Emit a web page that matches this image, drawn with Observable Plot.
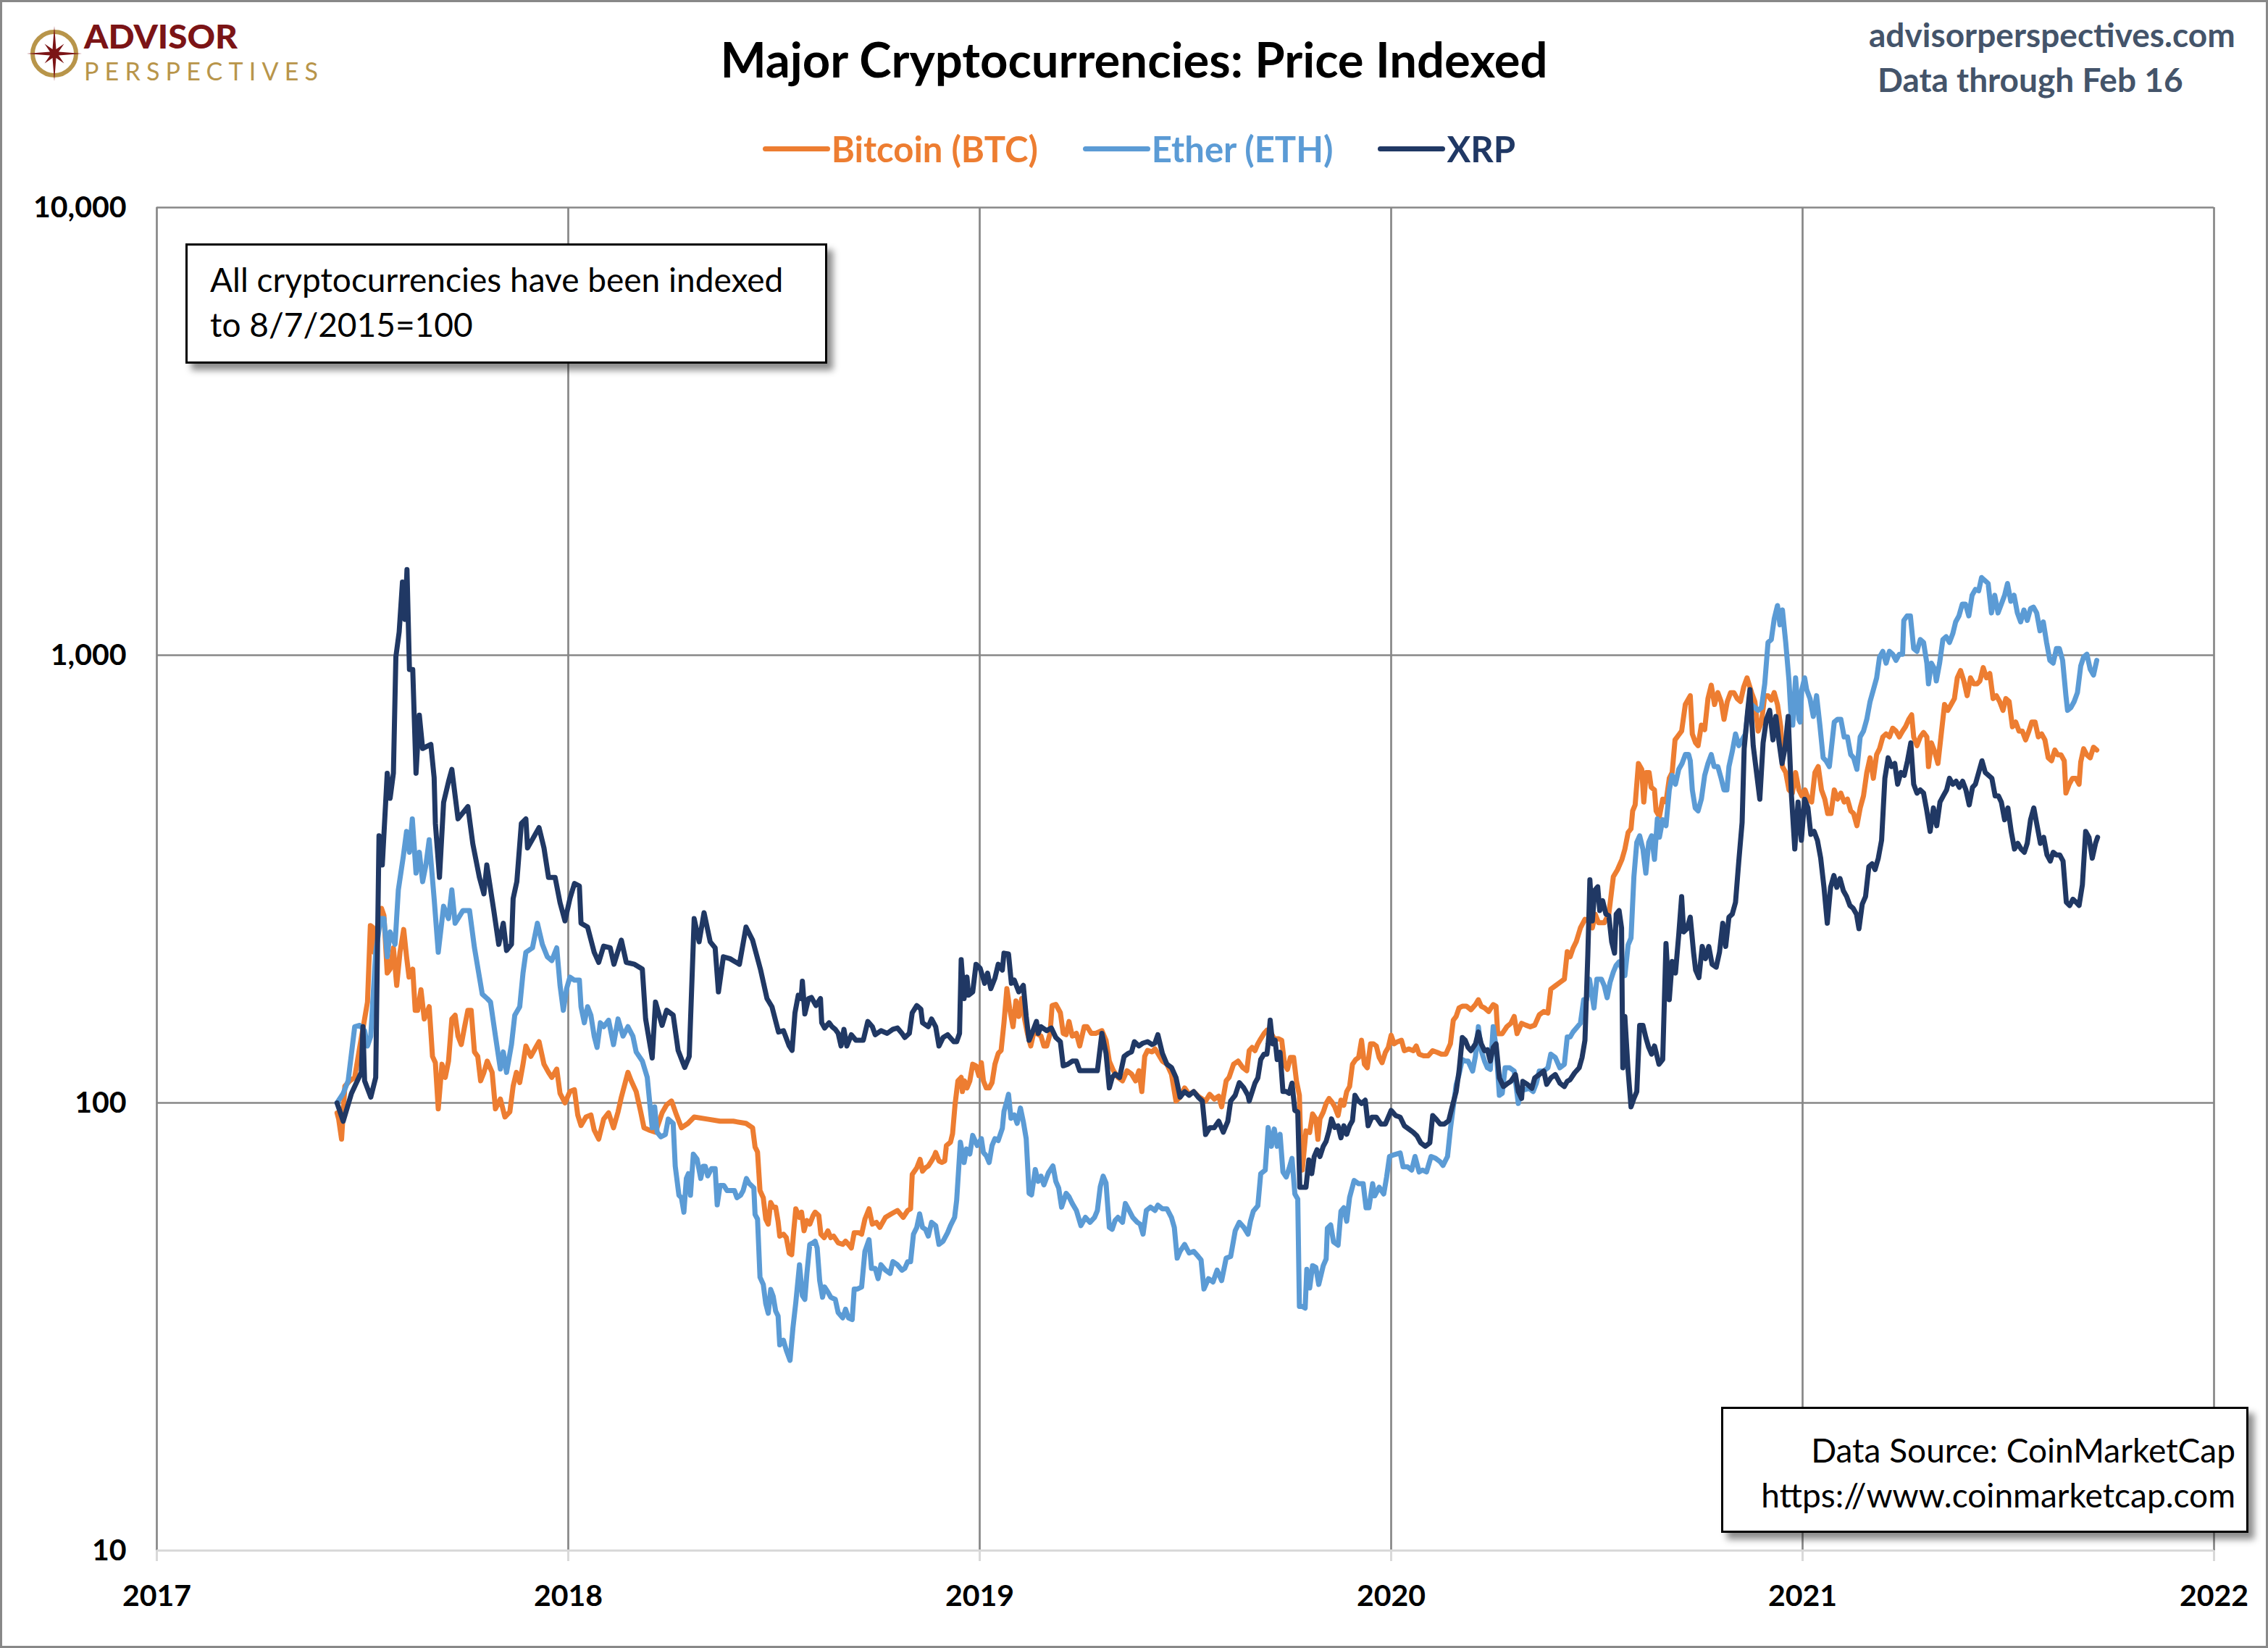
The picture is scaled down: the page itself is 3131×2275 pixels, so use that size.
<!DOCTYPE html>
<html>
<head>
<meta charset="utf-8">
<script src="https://cdn.jsdelivr.net/npm/d3@7"></script>
<script src="https://cdn.jsdelivr.net/npm/@observablehq/plot@0.6"></script>
<style>
  html, body { margin: 0; padding: 0; background: #fff; }
  #frame { position: relative; width: 3131px; height: 2275px; box-sizing: border-box; border: 3px solid #888; background: #fff; overflow: hidden; font-family: Lato, "Open Sans", sans-serif; }
  #header { position: relative; height: 247px; }
  .abs { position: absolute; white-space: nowrap; }
  #title { left: 0; right: 0; top: 45px; text-align: center; font-size: 67px; line-height: 67px; font-weight: 700; color: #000; }
  .site { font-size: 46px; line-height: 46px; font-weight: 700; color: #44546A; }
  #legend { left: 0; right: 0; top: 178px; height: 49px; display: flex; justify-content: center; align-items: center; gap: 62px; padding-left: 14px; }
  .item { display: flex; align-items: center; font-size: 49px; line-height: 49px; font-weight: 700; }
  .sw { width: 93px; height: 7px; border-radius: 4px; margin-right: 2px; }
  .box { position: absolute; box-sizing: border-box; border: 3px solid #000; background: #fff; font-size: 46px; line-height: 62px; color: #000; white-space: nowrap; box-shadow: 8px 9px 9px rgba(0,0,0,0.45); }
  #note { left: 253px; top: 333px; width: 886px; height: 166px; padding: 16px 0 0 31px; }
  #source { left: 2373px; top: 1939px; width: 728px; height: 174px; padding: 26px 15px 0 0; text-align: right; }
</style>
</head>
<body>
<div id="frame">
  <div id="header">
    <svg id="logo" class="abs" style="left:0;top:0" width="470" height="130"></svg>
    <div id="title" class="abs">Major Cryptocurrencies: Price Indexed</div>
    <div class="abs site" style="left:2577px;top:22px">advisorperspectives.com</div>
    <div class="abs site" style="left:2589px;top:84px">Data through Feb 16</div>
    <div id="legend" class="abs"></div>
  </div>
  <div id="chart"></div>
  <div id="note" class="box">All cryptocurrencies have been indexed<br>to 8/7/2015=100</div>
  <div id="source" class="box">Data Source: CoinMarketCap<br>https://www.coinmarketcap.com</div>
</div>
<script>
// ---- data: [decimal year, index value (8/7/2015 = 100)] ----
const seriesNames = ["Bitcoin (BTC)", "Ether (ETH)", "XRP"];
const seriesColors = ["#ED7D31", "#5B9BD5", "#203864"];
const xTicks = [2017, 2018, 2019, 2020, 2021, 2022];
const yTicks = [10, 100, 1000, 10000];

const btc = [
[2017.438,95],[2017.442,92],[2017.449,83],[2017.457,109],[2017.469,112],[2017.481,114],[2017.493,133],[2017.505,154],[2017.512,168],[2017.519,249],[2017.524,247],[2017.528,217],[2017.536,247],[2017.546,272],[2017.552,262],[2017.560,195],[2017.567,199],[2017.575,222],[2017.583,183],[2017.591,217],[2017.600,244],[2017.607,212],[2017.613,191],[2017.622,199],[2017.628,161],[2017.634,161],[2017.642,179],[2017.650,154],[2017.662,164],[2017.670,127],[2017.677,123],[2017.684,97],[2017.693,122],[2017.701,114],[2017.709,124],[2017.717,154],[2017.725,157],[2017.732,141],[2017.740,135],[2017.748,148],[2017.756,161],[2017.764,161],[2017.772,130],[2017.780,127],[2017.787,112],[2017.795,117],[2017.803,124],[2017.815,117],[2017.823,97],[2017.835,102],[2017.846,93],[2017.858,95.5],[2017.866,109],[2017.874,117],[2017.882,111],[2017.890,122],[2017.897,134],[2017.909,127],[2017.921,133],[2017.929,137],[2017.941,122],[2017.952,117],[2017.960,114],[2017.972,119],[2017.980,105],[2017.992,100],
[2018.004,106],[2018.015,107],[2018.023,94],[2018.031,89],[2018.043,93],[2018.055,94],[2018.063,87],[2018.074,83],[2018.086,92],[2018.098,95],[2018.110,88],[2018.121,95.5],[2018.129,103],[2018.145,117],[2018.153,112],[2018.165,106],[2018.176,95.5],[2018.184,88],[2018.196,87],[2018.212,86],[2018.228,95],[2018.239,99],[2018.251,101],[2018.263,94],[2018.275,88],[2018.291,90],[2018.306,93],[2018.338,92],[2018.369,91],[2018.401,91],[2018.432,90],[2018.448,88],
[2018.454,79.7],[2018.460,77.7],[2018.466,63.7],[2018.474,61.4],[2018.480,55],[2018.486,53.6],[2018.492,59.9],[2018.498,58.5],[2018.504,58.5],[2018.510,54.3],[2018.514,50.4],
[2018.523,50.9],[2018.530,50],[2018.537,46.2],[2018.543,45.8],[2018.548,51.8],[2018.553,58],[2018.562,55.5],[2018.567,57],[2018.573,51.8],[2018.580,54.6],[2018.587,53.6],[2018.595,56],[2018.600,57],[2018.609,56],[2018.614,50.9],[2018.622,50],[2018.631,51.8],[2018.638,50],[2018.645,50.4],[2018.656,48.7],[2018.667,48.3],[2018.674,49.1],[2018.681,48.3],[2018.688,47.4],[2018.695,51.3],[2018.706,51.3],[2018.713,50.9],[2018.721,55],[2018.731,58],[2018.739,53.6],[2018.749,54.1],[2018.757,52.7],[2018.771,55.5],[2018.785,56.5],[2018.800,57.5],[2018.814,55.5],[2018.825,57.5],[2018.832,58],[2018.836,69.2],[2018.847,71.6],[2018.855,74.8],[2018.861,70.4],[2018.868,71.6],[2018.875,72.3],[2018.883,74.2],[2018.890,76.2],[2018.893,77.5],[2018.901,74.2],[2018.908,73.6],[2018.915,74.2],[2018.919,80.3],[2018.929,81.7],[2018.934,85.3],[2018.940,99],[2018.947,112],[2018.955,114],[2018.958,106],[2018.963,112],[2018.969,108],[2018.976,112],[2018.983,122],[2018.991,121],[2018.998,115],
[2019.004,123],[2019.009,112],[2019.016,108],[2019.023,108],[2019.030,111],[2019.037,122],[2019.045,129],[2019.052,131],[2019.059,151],[2019.066,180],[2019.073,162],[2019.081,148],[2019.088,169],[2019.095,156],[2019.102,171],[2019.109,154],[2019.116,143],[2019.124,134],[2019.131,143],[2019.138,143],[2019.149,141],[2019.156,134],[2019.163,134],[2019.171,143],[2019.176,165],[2019.185,166],[2019.196,159],[2019.203,143],[2019.210,142],[2019.217,152],[2019.225,141],[2019.235,143],[2019.243,134],[2019.254,148],[2019.261,148],[2019.271,143],[2019.282,143],[2019.297,145],[2019.307,138],[2019.315,124],[2019.325,118],[2019.336,114],[2019.347,112],[2019.358,118],[2019.369,116],[2019.379,112],[2019.387,118],[2019.394,106],[2019.401,127],[2019.408,131],[2019.419,130],[2019.426,132],[2019.433,129],[2019.444,124],[2019.455,122],[2019.466,116],[2019.477,101],[2019.487,103],[2019.498,108],[2019.509,104.5],[2019.520,106],[2019.531,103.5],[2019.541,102],[2019.549,101],[2019.559,104.5],[2019.570,102],[2019.581,103.5],[2019.588,98],[2019.599,112],[2019.606,114],[2019.617,122],[2019.628,124],[2019.639,120],[2019.649,118],
[2019.655,130.8],[2019.662,133],[2019.669,130.8],[2019.676,135.5],[2019.683,139],[2019.691,142.8],[2019.698,145.3],[2019.709,142.8],[2019.716,139],[2019.727,139],[2019.734,138],[2019.741,122],[2019.748,118.8],[2019.755,126.3],[2019.763,126.3],[2019.770,111.7],[2019.777,104],[2019.781,75.9],[2019.784,70.8],[2019.793,86.6],[2019.802,85.9],[2019.809,94.5],[2019.817,92.1],[2019.822,82.9],[2019.827,92.1],[2019.835,95.4],[2019.842,99.7],[2019.849,102.3],[2019.856,100.5],[2019.863,98],[2019.871,93.7],[2019.878,101.4],[2019.885,98.8],[2019.892,106],[2019.899,108.8],[2019.906,122],[2019.914,125],[2019.921,126.3],[2019.928,138],[2019.935,122],[2019.942,119.8],[2019.950,135.5],[2019.957,135.5],[2019.964,134],[2019.971,126.3],[2019.978,123],[2019.986,129.7],[2019.993,133],
[2020.000,141.6],[2020.007,135.5],[2020.014,136.7],[2020.025,138],[2020.032,130.8],[2020.043,132],[2020.054,130.8],[2020.061,134],[2020.068,128.5],[2020.079,127.4],[2020.090,127.4],[2020.101,130.8],[2020.112,129.7],[2020.122,128.5],[2020.133,128.5],[2020.144,135.5],[2020.151,153],[2020.158,156],[2020.165,163],[2020.173,164.4],[2020.183,164.4],[2020.194,161.5],[2020.205,165.8],[2020.212,170],[2020.219,164.4],[2020.227,163],[2020.237,160],[2020.248,165.8],[2020.255,164.4],[2020.259,142.8],[2020.270,142.8],[2020.281,147.9],[2020.291,150.6],[2020.299,156],[2020.306,142.8],[2020.317,150.6],[2020.327,149.2],[2020.338,147.9],[2020.349,149.2],[2020.360,157.3],[2020.371,160],[2020.381,158.7],[2020.388,179.5],[2020.399,182.6],[2020.410,185.8],[2020.421,189],[2020.428,217.6],[2020.435,212],[2020.442,221.5],[2020.450,229.4],[2020.460,246],[2020.471,257],[2020.482,255],[2020.489,246],[2020.496,264],[2020.504,252.6],[2020.518,252.6],[2020.529,264],[2020.540,320],[2020.550,331.6],[2020.561,350],[2020.568,368.6],[2020.576,402],[2020.583,409.5],
[2020.587,449],[2020.593,463],[2020.601,573],[2020.609,556],[2020.614,470],[2020.620,547],[2020.627,547],[2020.632,507],[2020.640,500],[2020.644,449],[2020.652,436],[2020.660,477],[2020.668,470],[2020.676,531],[2020.683,547],[2020.690,647],[2020.698,662],[2020.706,677],[2020.715,776],[2020.723,800],[2020.727,812],[2020.732,667],[2020.740,637],[2020.746,628],[2020.754,698],[2020.762,682],[2020.770,800],[2020.778,857],[2020.786,776],[2020.794,825],[2020.802,788],[2020.809,719],[2020.817,788],[2020.825,825],[2020.833,825],[2020.841,800],[2020.849,788],[2020.857,850],[2020.865,890],[2020.876,825],[2020.884,788],[2020.892,677],[2020.900,709],[2020.908,812],[2020.916,812],[2020.924,794],[2020.931,825],[2020.939,776],[2020.947,692],[2020.951,564],[2020.959,547],[2020.967,500],[2020.975,492],[2020.983,547],[2020.991,500],[2020.998,485],
[2021.006,500],[2021.014,477],[2021.022,470],[2021.030,547],[2021.038,564],[2021.046,500],[2021.054,477],[2021.061,443],[2021.069,443],[2021.077,500],[2021.085,477],[2021.093,492],[2021.101,470],[2021.109,477],[2021.117,449],[2021.124,443],[2021.132,416],[2021.140,456],[2021.148,485],[2021.156,547],[2021.164,590],[2021.172,531],[2021.180,600],[2021.187,618],[2021.195,657],[2021.203,667],[2021.211,657],[2021.219,687],[2021.227,677],[2021.235,657],[2021.243,677],[2021.250,692],[2021.258,719],[2021.265,736],[2021.270,657],[2021.278,628],[2021.286,657],[2021.294,672],[2021.302,657],[2021.306,564],[2021.313,637],[2021.321,609],[2021.329,573],[2021.337,667],[2021.345,776],[2021.353,753],[2021.361,776],[2021.369,800],[2021.376,890],[2021.384,924],[2021.392,876],[2021.400,812],[2021.408,890],[2021.416,863],[2021.424,863],[2021.431,876],[2021.439,938],[2021.447,890],[2021.455,910],[2021.463,800],[2021.471,812],[2021.479,788],[2021.487,753],[2021.494,800],[2021.502,788],[2021.510,692],[2021.518,709],[2021.526,677],[2021.534,677],[2021.542,647],[2021.550,677],[2021.557,709],[2021.565,709],[2021.573,657],[2021.581,667],[2021.589,647],[2021.597,590],[2021.605,581],[2021.613,614],[2021.620,599],[2021.628,599],[2021.636,581],[2021.640,492],[2021.648,515],[2021.656,531],[2021.664,531],[2021.672,515],[2021.676,577],[2021.683,618],[2021.691,599],[2021.699,590],[2021.707,623],[2021.715,614]
];

const eth = [
[2017.438,100],[2017.453,105],[2017.465,112],[2017.481,148],[2017.493,149],[2017.505,145],[2017.512,134],[2017.520,141],[2017.532,217],[2017.544,258],[2017.552,258],[2017.560,212],[2017.567,241],[2017.579,226],[2017.587,299],[2017.599,355],[2017.607,404],[2017.614,363],[2017.621,431],[2017.630,326],[2017.638,363],[2017.646,312],[2017.654,340],[2017.662,387],[2017.674,286],[2017.684,217],[2017.697,275],[2017.709,258],[2017.717,299],[2017.725,252],[2017.732,258],[2017.744,269],[2017.760,269],[2017.772,222],[2017.784,191],[2017.791,175],[2017.803,171],[2017.811,168],[2017.823,141],[2017.835,119],[2017.842,130],[2017.850,117],[2017.862,135],[2017.870,157],[2017.882,164],[2017.890,195],[2017.897,217],[2017.913,222],[2017.925,252],[2017.937,226],[2017.949,212],[2017.960,208],[2017.972,222],[2017.980,183],[2017.988,161],[2017.996,180],
[2018.004,191],[2018.015,188],[2018.027,188],[2018.031,164],[2018.039,151],[2018.047,164],[2018.055,157],[2018.063,141],[2018.070,133],[2018.078,151],[2018.086,148],[2018.098,153],[2018.110,135],[2018.121,154],[2018.133,141],[2018.145,148],[2018.157,141],[2018.165,130],[2018.180,124],[2018.192,114],[2018.204,88],[2018.210,98],[2018.216,86],[2018.225,84],[2018.236,85],[2018.243,92],[2018.255,90],[2018.260,72.2],
[2018.269,62.2],[2018.275,61.4],[2018.281,57],[2018.287,67.8],[2018.292,69.5],[2018.297,62.2],[2018.304,76.8],[2018.313,74.9],[2018.322,67.8],[2018.328,72.2],[2018.333,72.2],[2018.339,68.7],[2018.348,71.3],[2018.357,71.3],[2018.362,59.2],[2018.369,65.4],[2018.378,65.4],[2018.386,63.7],[2018.395,63.7],[2018.404,63.7],[2018.410,61.4],[2018.419,62.2],[2018.425,63.7],[2018.433,67.8],[2018.439,66.2],[2018.445,65.4],[2018.451,64.6],[2018.454,56.3],[2018.460,55],[2018.466,40.8],[2018.474,39.3],[2018.480,35.6],[2018.486,33.9],[2018.492,38.3],[2018.498,37],[2018.504,34.3],[2018.510,33.4],[2018.514,28.8],
[2018.523,29.5],[2018.530,28],[2018.539,26.6],[2018.546,31.4],[2018.553,35.8],[2018.562,43.5],[2018.569,37.1],[2018.575,36.4],[2018.580,41.6],[2018.587,48.3],[2018.595,48.7],[2018.600,49.1],[2018.605,47.4],[2018.611,40.1],[2018.618,36.8],[2018.623,38.8],[2018.631,37.8],[2018.638,36.8],[2018.649,36.4],[2018.656,34],[2018.667,33.1],[2018.674,34.6],[2018.681,33.1],[2018.690,32.8],[2018.695,38.4],[2018.703,38.4],[2018.713,38.8],[2018.721,46.6],[2018.731,49.5],[2018.737,42.7],[2018.746,42.7],[2018.753,40.5],[2018.760,43.5],[2018.771,42.3],[2018.782,41.6],[2018.789,44.2],[2018.800,43.5],[2018.811,42.3],[2018.818,42.7],[2018.825,44.2],[2018.832,44.2],[2018.839,50.9],[2018.847,52.7],[2018.854,56.5],[2018.861,52.7],[2018.868,52.2],[2018.875,50.4],[2018.883,54.1],[2018.893,53.2],[2018.901,48.3],[2018.911,49.1],[2018.922,51.3],[2018.929,53.2],[2018.939,55.5],[2018.944,60.6],[2018.953,81.7],[2018.962,73.6],[2018.968,78.9],[2018.976,76.9],[2018.983,84.6],[2018.994,80.3],
[2019.004,83.2],[2019.009,77.5],[2019.016,76.2],[2019.023,73.6],[2019.030,80.3],[2019.037,83.2],[2019.045,82.4],[2019.055,87.7],[2019.059,95.7],[2019.066,101],[2019.070,104.5],[2019.076,92.4],[2019.084,94],[2019.091,90],[2019.099,97.4],[2019.106,90.8],[2019.113,83.2],[2019.120,62.8],[2019.126,62.3],[2019.135,71],[2019.142,66.8],[2019.149,68.6],[2019.156,65.6],[2019.167,69.8],[2019.178,72.3],[2019.185,66.8],[2019.192,64.5],[2019.199,58.5],[2019.210,62.8],[2019.217,61.7],[2019.225,59.6],[2019.235,57.5],[2019.246,53.2],[2019.257,55.5],[2019.268,54.1],[2019.279,55.5],[2019.286,57.5],[2019.293,65],[2019.300,68.6],[2019.307,66.2],[2019.315,52.7],[2019.322,52.2],[2019.329,54.6],[2019.336,55.5],[2019.347,54.1],[2019.354,59.6],[2019.361,58],[2019.372,55.5],[2019.383,54.1],[2019.390,53.6],[2019.397,50.9],[2019.405,57.5],[2019.415,58.5],[2019.426,57.5],[2019.433,59.1],[2019.444,58],[2019.455,58],[2019.466,55.5],[2019.473,52.7],[2019.480,45],[2019.487,46.6],[2019.498,48.3],[2019.509,46.2],[2019.520,46.6],[2019.531,45.4],[2019.538,44.6],[2019.545,38.4],[2019.556,40.5],[2019.567,39.8],[2019.577,42.3],[2019.588,40.1],[2019.599,45],[2019.610,45.4],[2019.621,51.8],[2019.631,54.1],[2019.642,52.7],[2019.652,50.9],
[2019.658,54.4],[2019.665,57.3],[2019.676,58.9],[2019.683,69.5],[2019.694,70.8],[2019.701,88.1],[2019.709,80],[2019.716,87.4],[2019.723,80],[2019.730,85.1],[2019.737,70.1],[2019.745,68.3],[2019.752,71.4],[2019.759,75.2],[2019.766,62.6],[2019.773,61],[2019.777,35.1],[2019.784,35.1],[2019.791,34.8],[2019.795,42.5],[2019.802,38.6],[2019.809,43.3],[2019.817,42.9],[2019.824,39.3],[2019.835,43.3],[2019.842,44.8],[2019.845,52.5],[2019.853,53.4],[2019.860,48.9],[2019.871,48.1],[2019.878,57.3],[2019.885,58.3],[2019.892,54.4],[2019.899,61.5],[2019.910,67.1],[2019.921,66],[2019.932,66],[2019.939,58.3],[2019.946,58.3],[2019.955,66],[2019.960,62],[2019.971,64.8],[2019.982,62.6],[2019.989,68.3],[2019.996,75.9],
[2020.007,76.6],[2020.022,77.3],[2020.029,72],[2020.040,72],[2020.050,70.8],[2020.058,75.9],[2020.068,70.1],[2020.076,70.8],[2020.086,70.1],[2020.097,75.9],[2020.108,75.2],[2020.119,73.9],[2020.126,72.5],[2020.137,75.9],[2020.144,87.4],[2020.151,98],[2020.158,109.8],[2020.165,115.7],[2020.173,125],[2020.180,124],[2020.187,124],[2020.198,117.8],[2020.205,127.4],[2020.212,148],[2020.219,130.8],[2020.227,124],[2020.234,119.8],[2020.241,118.8],[2020.248,148],[2020.255,133],[2020.263,104],[2020.270,105],[2020.277,119.8],[2020.288,119.8],[2020.299,117.8],[2020.309,99.7],[2020.317,107.8],[2020.324,107],[2020.335,107.8],[2020.345,106],[2020.353,110.7],[2020.360,117.8],[2020.371,117.8],[2020.381,119.8],[2020.388,128.5],[2020.399,126.3],[2020.410,119.8],[2020.421,122],[2020.428,140.3],[2020.435,140.3],[2020.442,144],[2020.453,148],[2020.460,150.6],[2020.468,170],[2020.475,170],[2020.482,189],[2020.493,163],[2020.500,189],[2020.511,189],[2020.518,182.6],[2020.525,171.7],[2020.532,185.8],[2020.540,196],[2020.547,203],[2020.554,206.5],[2020.561,199],[2020.568,192.4],[2020.576,225.4],[2020.583,233.5],[2020.590,320],[2020.597,381.7],[2020.604,395],[2020.612,368.6],[2020.619,326],[2020.626,381.7],[2020.633,395],[2020.640,350],[2020.647,431],
[2020.652,392],[2020.660,429],[2020.668,416],[2020.676,500],[2020.683,539],[2020.691,515],[2020.699,556],[2020.707,573],[2020.715,600],[2020.723,600],[2020.727,581],[2020.732,500],[2020.739,456],[2020.746,449],[2020.754,477],[2020.762,539],[2020.770,573],[2020.778,600],[2020.785,564],[2020.794,564],[2020.802,531],[2020.809,500],[2020.816,500],[2020.821,564],[2020.829,609],[2020.837,667],[2020.845,628],[2020.853,647],[2020.861,667],[2020.869,776],[2020.876,776],[2020.884,764],[2020.892,753],[2020.900,764],[2020.908,863],[2020.916,1068],[2020.924,1084],[2020.931,1205],[2020.939,1291],[2020.945,1169],[2020.951,1262],[2020.959,1068],[2020.967,876],[2020.971,753],[2020.976,698],[2020.983,890],[2020.991,719],[2020.994,709],[2020.998,837],
[2021.005,890],[2021.010,837],[2021.018,800],[2021.026,730],[2021.034,812],[2021.042,698],[2021.050,590],[2021.057,581],[2021.065,564],[2021.073,657],[2021.077,709],[2021.085,719],[2021.093,719],[2021.101,657],[2021.109,657],[2021.117,600],[2021.124,590],[2021.132,556],[2021.140,657],[2021.148,677],[2021.156,719],[2021.164,788],[2021.172,837],[2021.180,890],[2021.187,990],[2021.195,1020],[2021.203,960],[2021.211,1020],[2021.219,1005],[2021.227,974],[2021.235,1005],[2021.243,1005],[2021.246,1196],[2021.254,1224],[2021.262,1224],[2021.270,1035],[2021.278,1020],[2021.286,1084],[2021.294,1068],[2021.302,960],[2021.306,863],[2021.313,960],[2021.321,931],[2021.325,876],[2021.333,960],[2021.341,1084],[2021.349,1100],[2021.357,1068],[2021.365,1117],[2021.372,1187],[2021.380,1224],[2021.388,1300],[2021.396,1300],[2021.404,1224],[2021.412,1361],[2021.420,1403],[2021.428,1393],[2021.435,1491],[2021.443,1469],[2021.451,1446],[2021.459,1243],[2021.467,1361],[2021.475,1243],[2021.483,1300],[2021.491,1361],[2021.498,1446],[2021.506,1320],[2021.514,1361],[2021.522,1243],[2021.530,1187],[2021.538,1262],[2021.546,1196],[2021.554,1271],[2021.561,1281],[2021.569,1243],[2021.577,1134],[2021.585,1187],[2021.593,1068],[2021.601,974],[2021.609,960],[2021.617,1035],[2021.624,1035],[2021.632,974],[2021.640,812],[2021.644,753],[2021.652,764],[2021.660,788],[2021.668,825],[2021.676,946],[2021.683,990],[2021.691,1005],[2021.699,931],[2021.707,903],[2021.715,974]
];

const xrp = [
[2017.438,100],[2017.453,91],[2017.473,105],[2017.497,117],[2017.501,148],[2017.505,112],[2017.520,103],[2017.532,114],[2017.540,395],[2017.548,340],[2017.560,545],[2017.567,479],[2017.575,545],[2017.581,992],[2017.589,1127],[2017.597,1457],[2017.603,1202],[2017.608,1554],[2017.614,929],[2017.622,929],[2017.630,545],[2017.638,735],[2017.646,619],[2017.666,632],[2017.674,533],[2017.677,421],[2017.687,319],[2017.697,469],[2017.709,522],[2017.717,556],[2017.732,431],[2017.756,459],[2017.768,379],[2017.784,319],[2017.795,293],[2017.802,340],[2017.819,269],[2017.831,226],[2017.842,252],[2017.850,219],[2017.862,226],[2017.866,286],[2017.875,312],[2017.886,421],[2017.897,431],[2017.901,371],[2017.929,412],[2017.941,371],[2017.952,319],[2017.968,319],[2017.980,280],[2017.992,255],
[2018.004,286],[2018.015,309],[2018.027,305],[2018.031,252],[2018.047,247],[2018.063,217],[2018.074,206],[2018.086,224],[2018.102,222],[2018.111,204],[2018.129,231],[2018.141,206],[2018.161,204],[2018.180,199],[2018.188,154],[2018.204,126],[2018.212,168],[2018.228,149],[2018.239,161],[2018.255,157],[2018.267,131],[2018.283,120],[2018.294,127],[2018.306,258],[2018.318,229],[2018.330,266],[2018.345,229],[2018.357,222],[2018.365,177],[2018.377,212],[2018.393,210],[2018.416,204],[2018.432,247],[2018.448,231],[2018.467,199],[2018.483,171],[2018.495,164],[2018.511,144],
[2018.523,145],[2018.537,134],[2018.544,131],[2018.551,159],[2018.559,174],[2018.566,171],[2018.569,187],[2018.575,158],[2018.584,171],[2018.591,172],[2018.602,165],[2018.613,171],[2018.616,151],[2018.623,147],[2018.634,151],[2018.641,148],[2018.649,146],[2018.656,143],[2018.663,134],[2018.670,146],[2018.677,134],[2018.688,142],[2018.699,138],[2018.717,138],[2018.728,152],[2018.739,148],[2018.746,142],[2018.760,145],[2018.775,143],[2018.789,146],[2018.800,147],[2018.811,143],[2018.818,140],[2018.829,143],[2018.836,159],[2018.847,165],[2018.857,162],[2018.861,151],[2018.875,148],[2018.883,154],[2018.893,148],[2018.901,134],[2018.911,140],[2018.922,142],[2018.937,137],[2018.944,137],[2018.951,143],[2018.955,209],[2018.962,171],[2018.969,191],[2018.973,174],[2018.983,177],[2018.991,204],
[2019.001,200],[2019.012,185],[2019.019,195],[2019.027,180],[2019.037,190],[2019.045,204],[2019.055,198],[2019.059,216],[2019.070,215],[2019.077,185],[2019.084,188],[2019.095,177],[2019.106,183],[2019.113,156],[2019.120,138],[2019.127,143],[2019.138,152],[2019.142,143],[2019.149,148],[2019.163,145],[2019.174,147],[2019.185,140],[2019.196,137],[2019.203,121],[2019.214,122],[2019.225,124],[2019.235,124],[2019.243,118],[2019.257,118],[2019.271,118],[2019.286,118],[2019.297,143],[2019.307,129],[2019.315,108],[2019.322,114],[2019.329,116],[2019.340,114],[2019.351,127],[2019.361,129],[2019.369,130],[2019.376,137],[2019.387,134],[2019.397,136],[2019.408,137],[2019.419,135],[2019.426,136],[2019.433,142],[2019.444,129],[2019.455,122],[2019.466,120],[2019.477,114],[2019.487,103],[2019.498,106],[2019.509,104],[2019.520,106],[2019.531,103],[2019.541,101],[2019.549,85],[2019.559,88],[2019.570,88],[2019.581,91],[2019.592,86],[2019.603,91],[2019.610,101],[2019.621,104],[2019.631,111],[2019.642,108],[2019.652,104],
[2019.655,101],[2019.669,110.7],[2019.676,113.7],[2019.683,125],[2019.691,128.5],[2019.698,128.5],[2019.701,135.5],[2019.706,153],[2019.712,135.5],[2019.718,138],[2019.723,125],[2019.730,129.7],[2019.737,106],[2019.745,106],[2019.752,105],[2019.759,110.7],[2019.766,96.2],[2019.773,95.4],[2019.778,64.8],[2019.786,64.8],[2019.793,64.8],[2019.800,74.6],[2019.807,69.5],[2019.813,75.9],[2019.820,78.6],[2019.827,75.9],[2019.835,80],[2019.842,82.1],[2019.849,86.6],[2019.855,92.1],[2019.863,88.1],[2019.871,88.9],[2019.878,83.6],[2019.885,88.9],[2019.892,85.1],[2019.899,88.9],[2019.906,91.3],[2019.912,104],[2019.919,101.4],[2019.928,99.7],[2019.937,101.4],[2019.944,88.9],[2019.953,92.9],[2019.964,92.9],[2019.975,89.7],[2019.986,89.7],
[2020.000,96.2],[2020.011,93.7],[2020.022,92.9],[2020.032,88.9],[2020.043,87.4],[2020.054,85.9],[2020.063,84.3],[2020.072,81.4],[2020.083,80],[2020.094,81.4],[2020.101,93.7],[2020.109,92.1],[2020.119,89.7],[2020.129,89.7],[2020.140,91.3],[2020.147,97],[2020.158,106],[2020.165,117.8],[2020.173,140],[2020.180,138],[2020.187,133],[2020.194,130.8],[2020.205,135.5],[2020.212,144],[2020.219,135.5],[2020.227,130.8],[2020.234,131.5],[2020.241,124],[2020.248,133],[2020.255,135.5],[2020.263,113.7],[2020.273,108.8],[2020.284,110.7],[2020.291,111.7],[2020.302,115.7],[2020.309,106],[2020.317,102.3],[2020.320,111.7],[2020.331,110],[2020.342,107.8],[2020.349,113.7],[2020.360,115.7],[2020.371,117.8],[2020.378,110],[2020.388,113.7],[2020.399,115.7],[2020.410,110.7],[2020.421,108.8],[2020.428,111.7],[2020.435,112.7],[2020.446,116.7],[2020.457,119.8],[2020.464,126.3],[2020.471,138],[2020.478,214],[2020.483,315],[2020.489,255],[2020.495,298.5],[2020.502,304],[2020.507,269],[2020.514,283],[2020.522,264],[2020.529,262],[2020.536,229],[2020.543,216],[2020.547,264],[2020.554,269],[2020.560,246],[2020.563,119.8],[2020.568,156],[2020.576,117.8],[2020.583,98],[2020.590,102.3],[2020.597,106],[2020.604,149],[2020.612,149],[2020.619,140],[2020.626,133],[2020.633,128.5],[2020.640,134],[2020.651,122],[2020.660,125],
[2020.668,227],[2020.676,170],[2020.683,207],[2020.691,195],[2020.699,237.5],[2020.706,289],[2020.711,241],[2020.719,245],[2020.727,260],[2020.735,217],[2020.740,198],[2020.748,190.5],[2020.756,223.6],[2020.764,210],[2020.772,223.6],[2020.780,204],[2020.790,201],[2020.798,217],[2020.806,252],[2020.813,223.6],[2020.821,260],[2020.829,264],[2020.837,280.6],[2020.845,347],[2020.853,423],[2020.858,618],[2020.866,742],[2020.872,838],[2020.880,628],[2020.888,547],[2020.896,477],[2020.904,637],[2020.912,719],[2020.920,753],[2020.928,647],[2020.935,730],[2020.943,637],[2020.950,573],[2020.957,618],[2020.965,730],[2020.973,485],[2020.981,369],[2020.989,470],[2020.997,386],
[2021.005,477],[2021.013,456],[2021.020,398],[2021.028,404],[2021.036,386],[2021.044,352],[2021.052,303],[2021.060,252],[2021.068,303],[2021.076,322],[2021.083,303],[2021.091,317],[2021.099,298],[2021.107,289],[2021.115,276],[2021.123,272],[2021.131,264],[2021.137,245],[2021.145,278],[2021.153,289],[2021.161,337],[2021.169,342],[2021.176,332],[2021.184,352],[2021.192,386],[2021.200,531],[2021.208,590],[2021.216,564],[2021.224,573],[2021.231,515],[2021.239,547],[2021.247,539],[2021.255,581],[2021.263,637],[2021.270,515],[2021.278,492],[2021.286,500],[2021.294,492],[2021.302,449],[2021.310,404],[2021.318,456],[2021.326,416],[2021.334,470],[2021.342,485],[2021.350,500],[2021.357,531],[2021.365,515],[2021.373,523],[2021.381,507],[2021.389,523],[2021.397,500],[2021.405,463],[2021.413,507],[2021.420,515],[2021.428,547],[2021.436,581],[2021.444,547],[2021.452,539],[2021.460,531],[2021.468,485],[2021.476,485],[2021.483,470],[2021.491,429],[2021.499,456],[2021.507,404],[2021.515,369],[2021.523,380],[2021.531,369],[2021.539,363],[2021.546,380],[2021.554,429],[2021.562,456],[2021.570,416],[2021.578,380],[2021.586,392],[2021.594,358],[2021.602,347],[2021.609,363],[2021.617,358],[2021.625,358],[2021.633,347],[2021.641,280.6],[2021.649,276],[2021.657,285],[2021.665,280.6],[2021.672,276],[2021.680,307],[2021.688,404],[2021.696,392],[2021.704,352],[2021.712,380],[2021.717,392]
];

const seriesData = [btc, eth, xrp];
const rows = seriesData.flatMap((arr, i) => arr.map(([t, v]) => ({series: seriesNames[i], t, v})));

// ---- logo (decorative) ----
(function drawLogo() {
  const svg = d3.select("#logo");
  const cx = 72, cy = 71;
  svg.append("circle").attr("cx", cx).attr("cy", cy).attr("r", 30)
    .attr("fill", "none").attr("stroke", "#B8954A").attr("stroke-width", 6);
  const pts = [];
  for (let k = 0; k < 16; k++) {
    const a = -Math.PI / 2 + k * Math.PI / 8;
    const r = k % 4 === 0 ? 38 : (k % 2 === 0 ? 19 : 6.5);
    pts.push([cx + r * Math.cos(a), cy + r * Math.sin(a)]);
  }
  svg.append("polygon").attr("points", pts.map(p => p.join(",")).join(" ")).attr("fill", "#7B1416");
  svg.append("text").attr("x", 113).attr("y", 64).attr("font-family", "Lato").attr("font-weight", 900).attr("font-size", 45)
    .attr("fill", "#7B1416").attr("textLength", 212).attr("lengthAdjust", "spacingAndGlyphs").text("ADVISOR");
  svg.append("text").attr("x", 113).attr("y", 108).attr("font-family", "Lato").attr("font-weight", 400).attr("font-size", 34)
    .attr("fill", "#B8954A").attr("textLength", 323).attr("lengthAdjust", "spacing").text("PERSPECTIVES");
})();

// ---- legend ----
const legend = d3.select("#legend");
seriesNames.forEach((name, i) => {
  const it = legend.append("div").attr("class", "item").style("color", seriesColors[i]);
  it.append("div").attr("class", "sw").style("background", seriesColors[i]);
  it.append("span").text(name);
});

// ---- chart ----
const chart = Plot.plot({
  width: 3125,
  height: 2022,
  marginLeft: 213,
  marginRight: 72,
  marginTop: 36,
  marginBottom: 132,
  style: {fontFamily: "Lato", fontSize: "41px", fontWeight: "700", color: "#000", background: "transparent", overflow: "visible"},
  x: {domain: [2017, 2022], ticks: xTicks, tickFormat: d => String(d), tickSize: 0, tickPadding: 47, label: null},
  y: {type: "log", domain: [10, 10000], ticks: yTicks, tickFormat: d3.format(","), tickSize: 0, tickPadding: 42, label: null},
  color: {domain: seriesNames, range: seriesColors},
  marks: [
    Plot.ruleX(xTicks, {y1: 10, y2: 10, insetBottom: -15, stroke: "#D9D9D9", strokeWidth: 3}),
    Plot.ruleX(xTicks, {stroke: "#878787", strokeWidth: 2.7}),
    Plot.ruleY(yTicks.slice(1), {stroke: "#878787", strokeWidth: 2.7}),
    Plot.ruleY([10], {stroke: "#D9D9D9", strokeWidth: 3}),
    Plot.line(rows, {x: "t", y: "v", z: "series", stroke: "series", strokeWidth: 7, strokeLinejoin: "round", strokeLinecap: "round"})
  ]
});
document.getElementById("chart").appendChild(chart);
</script>
</body>
</html>
